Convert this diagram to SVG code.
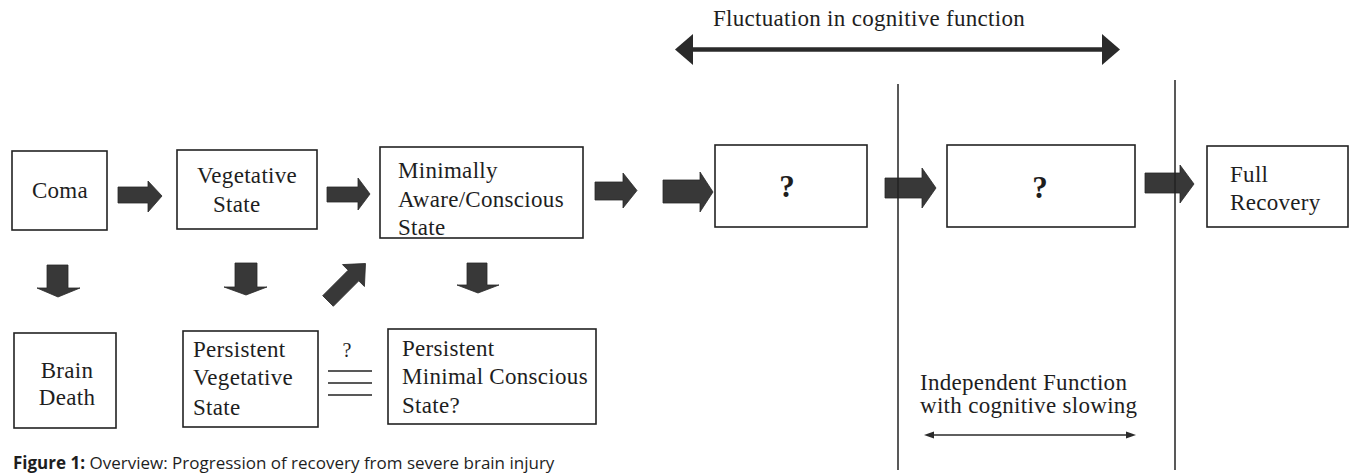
<svg xmlns="http://www.w3.org/2000/svg" width="1356" height="473" viewBox="0 0 1356 473">
<style>
  .box { fill: #ffffff; stroke: #222222; stroke-width: 1.6; }
  .t { font-family: "Liberation Serif", "Times New Roman", serif; font-size: 23px; fill: #1e1e1e; letter-spacing: 0.3px; }
  .q { font-family: "Liberation Serif", "Times New Roman", serif; font-size: 31px; font-weight: bold; fill: #1e1e1e; text-anchor: middle; }
  .blk { fill: #383838; stroke: #2a2a2a; stroke-width: 0.8; stroke-linejoin: round; }
  .ln { stroke: #222222; stroke-width: 1.5; fill: none; }
  .cap { font-family: "Open Sans", "Noto Sans", "Liberation Sans", sans-serif; font-size: 17px; fill: #1e1e1e; }
</style>
<rect width="1356" height="473" fill="#ffffff"/>

<g id="connectors">
  <polygon class="blk" points="118,187 148,187 148,181 162,196 148,212 148,203 118,203"/>
  <polygon class="blk" points="327,187 358,187 358,178 370,194 358,210 358,202 327,202"/>
  <polygon class="blk" points="595,182 623,182 623,173 637,190.5 623,208 623,200 595,200"/>
  <polygon class="blk" points="663,180 700,180 700,172 713,192 700,212 700,203 663,203"/>
  <polygon class="blk" points="885,178 922,178 922,168 936,188 922,208 922,198 885,198"/>
  <polygon class="blk" points="1145,173 1180,173 1180,165 1194,184 1180,203 1180,193 1145,193"/>
  <polygon class="blk" points="47,265 68,265 68,288 80,288 58,297 37,288 47,288"/>
  <polygon class="blk" points="235,263 257,263 257,287 267,287 246,295 224,287 235,287"/>
  <polygon class="blk" points="467,263 487,263 487,285 499,285 478,293 457,285 467,285"/>
  <polygon class="blk" transform="translate(328,301) rotate(-45)" points="0,-7.5 36,-7.5 36,-15.5 53,0 36,15.5 36,7.5 0,7.5"/>
</g>

<g id="annotations">
  <text class="t" x="713" y="26">Fluctuation in cognitive function</text>
  <line x1="692" y1="49.5" x2="1103" y2="49.5" stroke="#2a2a2a" stroke-width="4.5"/>
  <polygon fill="#2a2a2a" points="675,49.5 693,34 693,65"/>
  <polygon fill="#2a2a2a" points="1120,49.5 1102,34 1102,65"/>
  <line class="ln" x1="898" y1="84" x2="898" y2="470"/>
  <line class="ln" x1="1175" y1="80" x2="1175" y2="470"/>
  <text class="t" x="920" y="390">Independent Function</text>
  <text class="t" x="920" y="413">with cognitive slowing</text>
  <line x1="930" y1="435" x2="1130" y2="435" stroke="#2a2a2a" stroke-width="1.5"/>
  <polygon fill="#2a2a2a" points="924,435 934,431.5 934,438.5"/>
  <polygon fill="#2a2a2a" points="1136,435 1126,431.5 1126,438.5"/>
  <text class="t" x="347" y="357" text-anchor="middle" style="font-size:20px;letter-spacing:0">?</text>
  <line class="ln" x1="328" y1="371" x2="372" y2="371"/>
  <line class="ln" x1="328" y1="383" x2="372" y2="383"/>
  <line class="ln" x1="328" y1="395" x2="372" y2="395"/>
</g>

<g id="coma">
  <rect class="box" x="12" y="151" width="95" height="79"/>
  <text class="t" x="60" y="198" text-anchor="middle">Coma</text>
</g>
<g id="vegetative-state">
  <rect class="box" x="177" y="150" width="140" height="79"/>
  <text class="t" x="197" y="183">Vegetative</text>
  <text class="t" x="213" y="212">State</text>
</g>
<g id="minimally-aware">
  <rect class="box" x="380" y="147" width="203" height="91"/>
  <text class="t" x="398" y="178">Minimally</text>
  <text class="t" x="398" y="207">Aware/Conscious</text>
  <text class="t" x="398" y="235">State</text>
</g>
<g id="unknown-1">
  <rect class="box" x="715" y="145" width="152" height="82"/>
  <text class="q" x="787" y="197">?</text>
</g>
<g id="unknown-2">
  <rect class="box" x="947" y="145" width="188" height="82"/>
  <text class="q" x="1040" y="198">?</text>
</g>
<g id="full-recovery">
  <rect class="box" x="1207" y="146" width="141" height="81"/>
  <text class="t" x="1230" y="182">Full</text>
  <text class="t" x="1230" y="210">Recovery</text>
</g>
<g id="brain-death">
  <rect class="box" x="14" y="333" width="102" height="95"/>
  <text class="t" x="67" y="378" text-anchor="middle">Brain</text>
  <text class="t" x="67" y="405" text-anchor="middle">Death</text>
</g>
<g id="persistent-vegetative">
  <rect class="box" x="183" y="331" width="135" height="96"/>
  <text class="t" x="193" y="357">Persistent</text>
  <text class="t" x="193" y="385">Vegetative</text>
  <text class="t" x="193" y="415">State</text>
</g>
<g id="persistent-minimal">
  <rect class="box" x="388" y="329" width="208" height="95"/>
  <text class="t" x="402" y="356">Persistent</text>
  <text class="t" x="402" y="384">Minimal Conscious</text>
  <text class="t" x="402" y="413">State?</text>
</g>

<text class="cap" x="13" y="469"><tspan font-weight="bold">Figure 1:</tspan> Overview: Progression of recovery from severe brain injury</text>
</svg>
